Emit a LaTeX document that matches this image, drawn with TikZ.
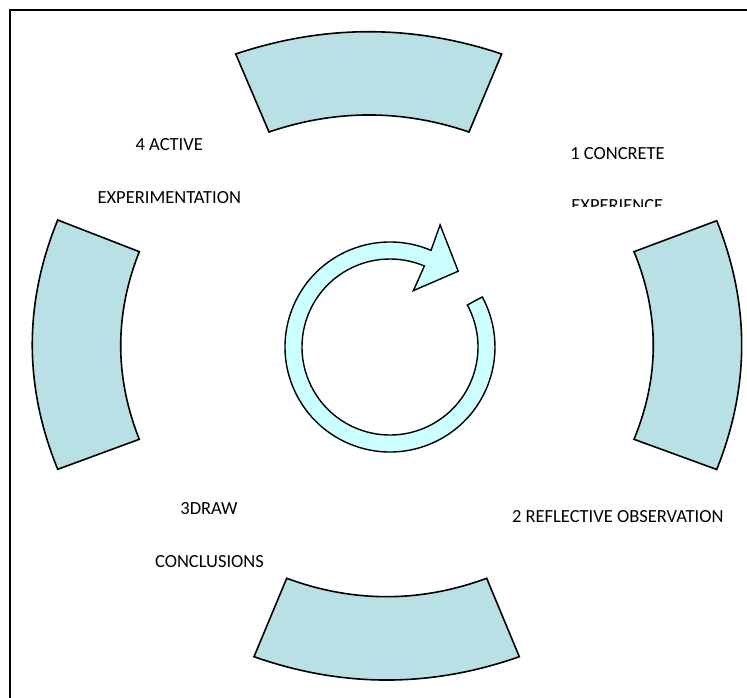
\documentclass[tikz,border=0pt]{standalone}
\usepackage{fontspec}
\setmainfont{Carlito}
\definecolor{segfill}{RGB}{185,224,228}
\definecolor{ringfill}{RGB}{204,255,255}
\begin{document}
\begin{tikzpicture}[x=1pt,y=-1pt,
  segment/.style={draw=black, line width=1.6pt, fill=segfill, line join=miter},
  ring/.style={draw=black, line width=1.4pt, fill=ringfill, line join=miter},
  frameline/.style={draw=black, line width=2.4pt},
  stagetext/.style={inner sep=0pt, text=black, font=\fontsize{18.5}{22}\selectfont}]
\useasboundingbox (0,0) rectangle (747,698);

% outer frame (only top and left edges fall inside the page)
\draw[frameline] (10,720) -- (10,10) -- (770,10);

% top segment
\draw[segment] (235.7,54) .. controls (324.4,24.3) and (413,24.3) .. (501.7,54)
  -- (469,132) .. controls (402.3,109.3) and (335.7,109.3) .. (269,132) -- cycle;

% bottom segment
\draw[segment] (286.7,578.3) .. controls (353.3,602.8) and (420,602.8) .. (486.7,578.3)
  -- (519.3,656.7) .. controls (430.9,687.8) and (342.4,687.8) .. (254,656.7) -- cycle;

% left segment
\draw[segment] (57.7,220) -- (139.3,251.7)
  .. controls (114.5,314.2) and (114.5,376.8) .. (139.3,439.3)
  -- (57.7,469.3) .. controls (23.8,386.2) and (23.8,303.1) .. cycle;

% right segment
\draw[segment] (716.7,220.7) .. controls (750,303.6) and (750,386.6) .. (716.7,469.5)
  -- (634,439.3) .. controls (659.7,376.8) and (659.7,314.2) .. (634,251.7) -- cycle;

% circular arrow in the middle
\begin{scope}[shift={(390,347)}, yscale=-1]
  \draw[ring] (67:105) arc[start angle=67, end angle=388.5, radius=105]
    -- (388.5:88) arc[start angle=388.5, end angle=67, radius=88]
    -- (67.5:61) -- (48:102) -- (67.7:132) -- cycle;
\end{scope}

% stage labels
\node[stagetext] (active1) at (169.3,145) {4 ACTIVE};
\node[stagetext] (active2) at (169.3,198) {EXPERIMENTATION};
\node[stagetext] (concrete1) at (617.5,153.3) {1 CONCRETE};
\begin{scope}
  \clip (540,180) rectangle (700,206);
  \node[stagetext] (concrete2) at (617.3,206) {EXPERIENCE};
\end{scope}
\node[stagetext] (draw1) at (209,508.8) {3DRAW};
\node[stagetext] (draw2) at (209.5,561.7) {CONCLUSIONS};
\node[stagetext] (reflect) at (617.8,516.7) {2 REFLECTIVE OBSERVATION};
\end{tikzpicture}
\end{document}
